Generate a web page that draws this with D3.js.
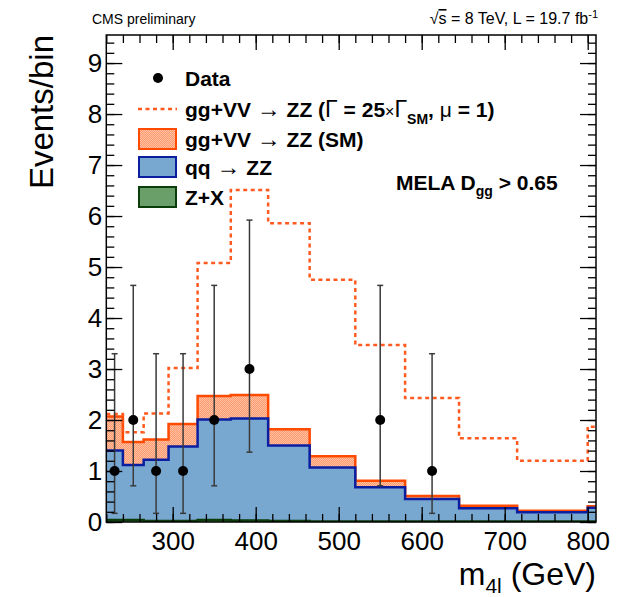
<!DOCTYPE html>
<html>
<head>
<meta charset="utf-8">
<script src="https://cdn.jsdelivr.net/npm/d3@7"></script>
<style>
  body { margin: 0; background: #fff; }
  text { font-family: "Liberation Sans", Arial, sans-serif; }
</style>
</head>
<body>
<svg id="chart" width="621" height="597"></svg>
<script>
// bin edges in m4l (GeV)
const edges = [220, 240, 265, 295, 330, 370, 415, 465, 520, 580, 645, 715, 800, 810];
// stacked components per bin
const zx   = [0.04, 0.04, 0.02, 0.02, 0.04, 0.03, 0.02, 0.01, 0.01, 0.01, 0.01, 0.01, 0.01];
const qqZZ = [1.36, 1.08, 1.20, 1.46, 1.97, 2.00, 1.48, 1.06, 0.67, 0.44, 0.26, 0.18, 0.27];
const ggSM = [0.67, 0.45, 0.40, 0.44, 0.46, 0.46, 0.32, 0.22, 0.13, 0.06, 0.05, 0.03, 0.03];
// total with gg+VV -> ZZ at 25x width
const gg25 = [2.12, 1.76, 2.13, 3.02, 5.08, 6.51, 5.86, 4.75, 3.47, 2.43, 1.64, 1.20, 1.87];
// data points (zero bins not drawn)
const dataX  = [230, 252.5, 280, 312.5, 350, 392.5, 550, 612.5];
const dataY  = [1, 2, 1, 1, 2, 3, 2, 1];
const dataLo = [0.17, 0.71, 0.17, 0.17, 0.71, 1.37, 0.71, 0.17];
const dataHi = [3.30, 4.64, 3.30, 3.30, 4.64, 5.92, 4.64, 3.30];

const yMajor = d3.range(0, 10, 1);
const yMinor = d3.range(0, 9.55, 0.2);
const xMajor = [300, 400, 500, 600, 700, 800];
const xMinor = d3.range(220, 811, 20);

const svg = d3.select("#chart");
const L = 106.3, R = 596, T = 35, B = 522;
const x = d3.scaleLinear().domain([220, 810]).range([L, R]);
const y = d3.scaleLinear().domain([0, 9.55]).range([B, T]);

// pattern for the gg SM fill
const defs = svg.append("defs");
const pat = defs.append("pattern").attr("id", "hatch")
  .attr("width", 2).attr("height", 2).attr("patternUnits", "userSpaceOnUse");
pat.append("rect").attr("width", 2).attr("height", 2).attr("fill", "#ff9a6c").attr("shape-rendering", "crispEdges");
pat.append("rect").attr("width", 1).attr("height", 1).attr("fill", "#ffc0a4").attr("shape-rendering", "crispEdges");
pat.append("rect").attr("x", 1).attr("y", 1).attr("width", 1).attr("height", 1).attr("fill", "#ffc0a4").attr("shape-rendering", "crispEdges");
defs.append("clipPath").attr("id", "clip").append("rect")
  .attr("x", L).attr("y", T).attr("width", R - L).attr("height", B - T);

//stack
const rows = edges.slice(0, -1).map((e, i) => ({ x0: e, zx: zx[i], qq: qqZZ[i], gg: ggSM[i] }));
const stack = d3.stack().keys(["zx", "qq", "gg"])(rows);
const withEnd = (arr, f) => {
  const pts = arr.map((d, i) => ({ x: edges[i], v: f(d, i) }));
  pts.push({ x: edges[edges.length - 1], v: f(arr[arr.length - 1], arr.length - 1) });
  return pts;
};
const area = d3.area().curve(d3.curveStepAfter)
  .x(d => x(d.x)).y0(d => y(d.v0)).y1(d => y(d.v));
const line = d3.line().curve(d3.curveStepAfter).x(d => x(d.x)).y(d => y(d.v));

const styles = {
  gg: { fill: "url(#hatch)", stroke: "#ff4a00" },
  qq: { fill: "#78a7d0", stroke: "#0b1ea0" },
  zx: { fill: "#6a9f6a", stroke: "#0a3d0a" },
};

const plot = svg.append("g").attr("clip-path", "url(#clip)");
// draw from top layer down, each filled from 0 like ROOT stacks
["gg", "qq", "zx"].forEach(k => {
  const layer = stack.find(s => s.key === k);
  const pts = withEnd(layer, d => d[1]).map(p => ({ ...p, v0: 0 }));
  plot.append("path").attr("d", area(pts)).attr("fill", styles[k].fill);
  plot.append("path").attr("d", line(pts)).attr("fill", "none")
    .attr("stroke", styles[k].stroke).attr("stroke-width", 2.5);
});

// 25x width curve
plot.append("path")
  .attr("d", line(withEnd(gg25, d => d)))
  .attr("fill", "none").attr("stroke", "#ff5a1f")
  .attr("stroke-width", 2.5).attr("stroke-dasharray", "4 3.5");

// data
const dg = svg.append("g");
dataX.forEach((dx, i) => {
  const cx = x(dx);
  dg.append("line").attr("x1", cx).attr("x2", cx)
    .attr("y1", y(dataLo[i])).attr("y2", y(dataHi[i]))
    .attr("stroke", "#3a3a3a").attr("stroke-width", 1.5);
  [dataLo[i], dataHi[i]].forEach(v => dg.append("line")
    .attr("x1", cx - 3).attr("x2", cx + 3).attr("y1", y(v)).attr("y2", y(v))
    .attr("stroke", "#3a3a3a").attr("stroke-width", 1.5));
  dg.append("circle").attr("cx", cx).attr("cy", y(dataY[i])).attr("r", 5).attr("fill", "#000");
});

// axes: ticks inside on all four sides
const ax = svg.append("g");
const tickStyle = g => { g.select(".domain").remove(); g.selectAll("line").attr("stroke", "#000").attr("stroke-width", 1.3); };
ax.append("g").attr("transform", `translate(${L},0)`)
  .call(d3.axisLeft(y).tickValues(yMinor).tickSize(-8).tickFormat("")).call(tickStyle);
ax.append("g").attr("transform", `translate(${L},0)`)
  .call(d3.axisLeft(y).tickValues(yMajor).tickSize(-16).tickPadding(4).tickFormat(d3.format("d")))
  .call(tickStyle)
  .call(g => g.selectAll("text").attr("font-size", 26).attr("fill", "#000")
    .attr("font-family", "Liberation Sans, Arial, sans-serif"));
ax.append("g").attr("transform", `translate(${R},0)`)
  .call(d3.axisRight(y).tickValues(yMinor).tickSize(-8).tickFormat("")).call(tickStyle);
ax.append("g").attr("transform", `translate(${R},0)`)
  .call(d3.axisRight(y).tickValues(yMajor).tickSize(-16).tickFormat("")).call(tickStyle);
ax.append("g").attr("transform", `translate(0,${B})`)
  .call(d3.axisBottom(x).tickValues(xMinor).tickSize(-8).tickFormat("")).call(tickStyle);
ax.append("g").attr("transform", `translate(0,${B})`)
  .call(d3.axisBottom(x).tickValues(xMajor).tickSize(-15).tickPadding(10).tickFormat(d3.format("d")))
  .call(tickStyle)
  .call(g => g.selectAll("text").attr("font-size", 26).attr("fill", "#000")
    .attr("font-family", "Liberation Sans, Arial, sans-serif"));
ax.append("g").attr("transform", `translate(0,${T})`)
  .call(d3.axisTop(x).tickValues(xMinor).tickSize(-8).tickFormat("")).call(tickStyle);
ax.append("g").attr("transform", `translate(0,${T})`)
  .call(d3.axisTop(x).tickValues(xMajor).tickSize(-15).tickFormat("")).call(tickStyle);
svg.append("rect").attr("x", L).attr("y", T).attr("width", R - L).attr("height", B - T)
  .attr("fill", "none").attr("stroke", "#000").attr("stroke-width", 1.5);

// axis titles
svg.append("text").attr("transform", "translate(53,35) rotate(-90)")
  .attr("text-anchor", "end").attr("font-size", 33).text("Events/bin");
const xt = svg.append("text").attr("x", 596).attr("y", 585).attr("text-anchor", "end").attr("font-size", 32);
xt.append("tspan").text("m");
xt.append("tspan").attr("font-size", 21).attr("dy", 8).text("4l");
xt.append("tspan").attr("dy", -8).text(" (GeV)");

// header
svg.append("text").attr("x", 92).attr("y", 24).attr("font-size", 14).text("CMS preliminary");
const hr = svg.append("text").attr("x", 598).attr("y", 24).attr("text-anchor", "end").attr("font-size", 16);
hr.append("tspan").text("√");
hr.append("tspan").attr("text-decoration", "overline").text("s");
hr.append("tspan").text(" = 8 TeV, L = 19.7 fb");
hr.append("tspan").attr("font-size", 11).attr("dy", -6).text("-1");

// legend
const lg = svg.append("g").attr("font-size", 21).attr("font-weight", "bold");
const lx = 185, rowY = [78, 109, 139, 167, 197];
const arrow = t => t.append("tspan").attr("font-weight", "normal").attr("font-size", 24).text("→");
lg.append("circle").attr("cx", 158).attr("cy", rowY[0]).attr("r", 5).attr("fill", "#000");
lg.append("text").attr("x", lx).attr("y", rowY[0]).attr("dy", "0.36em").text("Data");
lg.append("line").attr("x1", 138).attr("x2", 177).attr("y1", rowY[1]).attr("y2", rowY[1])
  .attr("stroke", "#ff5a1f").attr("stroke-width", 2.5).attr("stroke-dasharray", "4 3.5");
const t1 = lg.append("text").attr("x", lx).attr("y", rowY[1]).attr("dy", "0.36em");
t1.append("tspan").text("gg+VV ");
arrow(t1);
t1.append("tspan").text(" ZZ (");
t1.append("tspan").attr("font-weight", "normal").attr("font-size", 23).text("Γ");
t1.append("tspan").text(" = 25");
t1.append("tspan").attr("font-weight", "normal").attr("font-size", 16).text("×");
t1.append("tspan").attr("font-weight", "normal").attr("font-size", 23).text("Γ");
t1.append("tspan").attr("font-size", 14).attr("dy", 7).text("SM");
t1.append("tspan").attr("dy", -7).text(", ");
t1.append("tspan").attr("font-weight", "normal").text("μ");
t1.append("tspan").text(" = 1)");
[["gg", "gg+VV → ZZ (SM)"], ["qq", "qq → ZZ"], ["zx", "Z+X"]].forEach(([k, label], i) => {
  const cy = rowY[i + 2];
  lg.append("rect").attr("x", 139).attr("y", cy - 10).attr("width", 37).attr("height", 20)
    .attr("fill", styles[k].fill).attr("stroke", styles[k].stroke).attr("stroke-width", 2);
  const t = lg.append("text").attr("x", lx).attr("y", cy).attr("dy", "0.36em");
  const parts = label.split("→");
  t.append("tspan").text(parts[0]);
  if (parts.length > 1) {
    arrow(t);
    t.append("tspan").text(parts[1]);
  }
});

// category label
const mt = svg.append("text").attr("x", 396).attr("y", 190).attr("font-size", 21).attr("font-weight", "bold");
mt.append("tspan").text("MELA D");
mt.append("tspan").attr("font-size", 14).attr("dy", 6).text("gg");
mt.append("tspan").attr("dy", -6).text(" > 0.65");
</script>
</body>
</html>
